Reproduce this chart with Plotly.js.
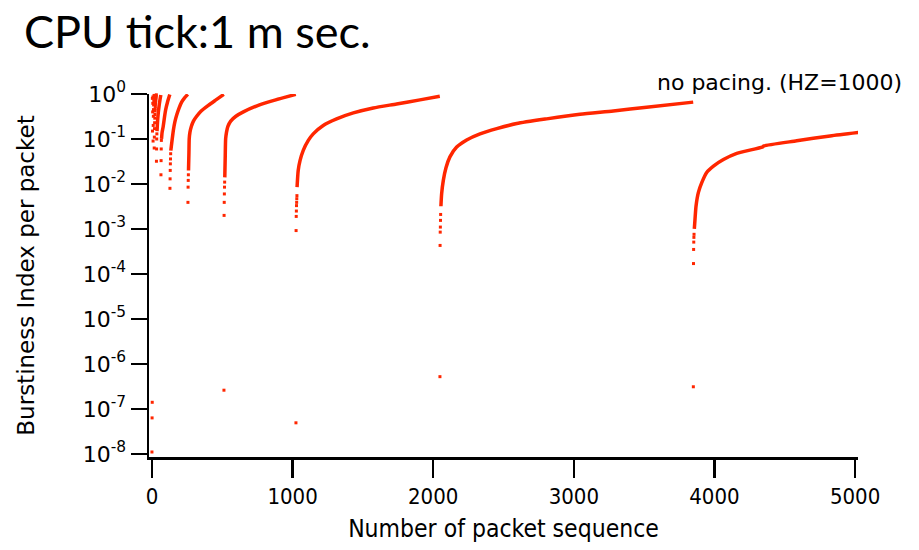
<!DOCTYPE html>
<html>
<head>
<meta charset="utf-8">
<script src="https://cdn.plot.ly/plotly-3.0.1.min.js"></script>
<style>html,body{margin:0;padding:0;background:#fff;}#chart{width:919px;height:550px;}</style>
</head>
<body>
<div id="chart"></div>
<script>
// Individually visible packets (reset points and first packets after each reset)
const dotX = [0, 1, 2, 3, 4, 5, 6, 7, 8, 9, 10, 11, 12, 13, 14, 15,
  16, 17, 18, 19, 20, 21, 22, 23, 24, 25, 26, 27, 28, 29, 30, 31,
  32, 33, 34, 35, 64, 65, 66, 67, 128, 129, 130, 131, 132, 133,
  256, 257, 258, 259, 512, 513, 514, 515, 516, 517,
  1024, 1025, 1026, 1027, 1028, 1029, 1030, 1031,
  2048, 2049, 2050, 2051, 2052, 2053,
  3850, 3851, 3852, 3853, 3854, 3855];
const dotY = [1.1e-8, 6.3e-8, 1.4e-7, 0.8, 0.15, 0.4, 0.62, 0.86, 0.09, 0.2, 0.32, 0.45, 0.57, 0.69, 0.8, 0.93,
  0.063, 0.11, 0.17, 0.23, 0.29, 0.35, 0.42, 0.47, 0.53, 0.6, 0.66, 0.72, 0.78, 0.84, 0.9, 0.96,
  0.032, 0.06, 0.1, 0.13, 0.016, 0.033, 0.06, 0.093, 0.008, 0.013, 0.02, 0.028, 0.036, 0.047,
  0.0039, 0.0085, 0.012, 0.016, 2.6e-7, 0.002, 0.0039, 0.006, 0.0085, 0.011,
  4.9e-8, 9.2e-4, 0.0019, 0.0025, 0.0033, 0.0039, 0.0047, 0.0055,
  5.2e-7, 4.3e-4, 8.5e-4, 0.0011, 0.00155, 0.0021,
  3.1e-7, 1.7e-4, 3.5e-4, 5.1e-4, 6.5e-4, 7.6e-4];

// Dense runs of packets (drawn as a continuous band)
const run32X = [36, 40, 45, 50, 56, 63];
const run32Y = [0.15, 0.25, 0.38, 0.52, 0.71, 0.95];
const run64X = [68, 72, 80, 90, 97, 110, 127];
const run64Y = [0.1, 0.14, 0.19, 0.32, 0.44, 0.65, 0.97];
const run128X = [134, 138, 145, 152, 163, 176, 192, 211, 232, 255];
const run128Y = [0.055, 0.07, 0.105, 0.155, 0.24, 0.34, 0.48, 0.66, 0.82, 0.98];
const run256X = [260, 263, 265, 270, 280, 295, 318, 350, 401, 450, 511];
const run256Y = [0.02, 0.05, 0.1, 0.14, 0.19, 0.25, 0.32, 0.42, 0.56, 0.72, 0.98];
const run512X = [518, 521, 524, 530, 540, 560, 597, 650, 756, 880, 1023];
const run512Y = [0.014, 0.04, 0.1, 0.14, 0.19, 0.25, 0.32, 0.4, 0.56, 0.74, 0.98];
const run1024X = [1032, 1040, 1053, 1076, 1112, 1147, 1218, 1313, 1432, 1574, 1740, 1906, 2047];
const run1024Y = [0.0085, 0.02, 0.033, 0.056, 0.093, 0.13, 0.2, 0.28, 0.38, 0.49, 0.6, 0.74, 0.89];
const run2048X = [2055, 2060, 2072, 2091, 2119, 2167, 2238, 2333, 2452, 2594, 2807, 3044, 3281, 3518, 3849];
const run2048Y = [0.0032, 0.006, 0.012, 0.023, 0.04, 0.066, 0.095, 0.13, 0.17, 0.22, 0.28, 0.355, 0.42, 0.51, 0.66];
const run3850X = [3857, 3862, 3869, 3886, 3910, 3945, 3993, 4064, 4159, 4340, 4352, 4585, 4822, 5036];
const run3850Y = [0.001, 0.00166, 0.0032, 0.0065, 0.0107, 0.018, 0.025, 0.035, 0.048, 0.066, 0.07, 0.091, 0.117, 0.141];

const yTickVals = [1e-8, 1e-7, 1e-6, 1e-5, 1e-4, 1e-3, 1e-2, 1e-1, 1];
const yTickText = ['10<sup>-8</sup>', '10<sup>-7</sup>', '10<sup>-6</sup>', '10<sup>-5</sup>', '10<sup>-4</sup>',
  '10<sup>-3</sup>', '10<sup>-2</sup>', '10<sup>-1</sup>', '10<sup>0</sup>'];
const xTickVals = [0, 1000, 2000, 3000, 4000, 5000];

const RED = 'rgb(255,38,0)';
const runs = [[run32X, run32Y], [run64X, run64Y], [run128X, run128Y], [run256X, run256Y],
  [run512X, run512Y], [run1024X, run1024Y], [run2048X, run2048Y], [run3850X, run3850Y]];

const traces = runs.map(function (r) {
  return {x: r[0], y: r[1], type: 'scatter', mode: 'lines',
    line: {color: RED, width: 3.5, shape: 'spline', smoothing: 0.6}, hoverinfo: 'x+y', showlegend: false};
});
traces.push({x: dotX, y: dotY, type: 'scatter', mode: 'markers',
  marker: {color: RED, size: 3, symbol: 'square'}, showlegend: false, cliponaxis: false});

const layout = {
  width: 919, height: 550,
  paper_bgcolor: '#fff', plot_bgcolor: '#fff',
  margin: {l: 149, r: 61, t: 94, b: 93},
  showlegend: false,
  title: {text: 'CPU tick:1 m sec.', xref: 'container', yref: 'container', x: 24 / 919, xanchor: 'left',
    y: 1 - 32 / 550, yanchor: 'middle', font: {family: 'Lato, sans-serif', size: 45, color: '#000'}},
  xaxis: {
    type: 'linear', range: [-21, 5021],
    tickvals: xTickVals, ticks: 'outside', ticklen: 18, tickwidth: 2.5, tickcolor: '#000',
    showline: true, linewidth: 2.5, linecolor: '#000', showgrid: false, zeroline: false,
    tickfont: {family: 'DejaVu Sans Condensed, DejaVu Sans, sans-serif', size: 22, color: '#000'},
    title: {text: 'Number of packet sequence', standoff: 12,
      font: {family: 'DejaVu Sans Condensed, DejaVu Sans, sans-serif', size: 24.5, color: '#000'}}
  },
  yaxis: {
    type: 'log', range: [-8.07, 0],
    tickvals: yTickVals, ticktext: yTickText, ticks: 'outside', ticklen: 16, tickwidth: 2.5, tickcolor: '#000',
    showline: true, linewidth: 2.5, linecolor: '#000', showgrid: false, zeroline: false,
    tickfont: {family: 'DejaVu Sans, sans-serif', size: 22, color: '#000'},
    title: {text: 'Burstiness Index per packet', standoff: 42,
      font: {family: 'DejaVu Sans, sans-serif', size: 23, color: '#000'}}
  },
  annotations: [{
    text: 'no pacing. (HZ=1000)', xref: 'paper', yref: 'paper', x: 1 + (904 - 858) / 709, y: 1 + (94 - 82) / 363,
    xanchor: 'right', yanchor: 'middle', showarrow: false,
    font: {family: 'DejaVu Sans, sans-serif', size: 22, color: '#000'}
  }]
};

Plotly.newPlot('chart', traces, layout, {staticPlot: true, displayModeBar: false});
</script>
</body>
</html>
